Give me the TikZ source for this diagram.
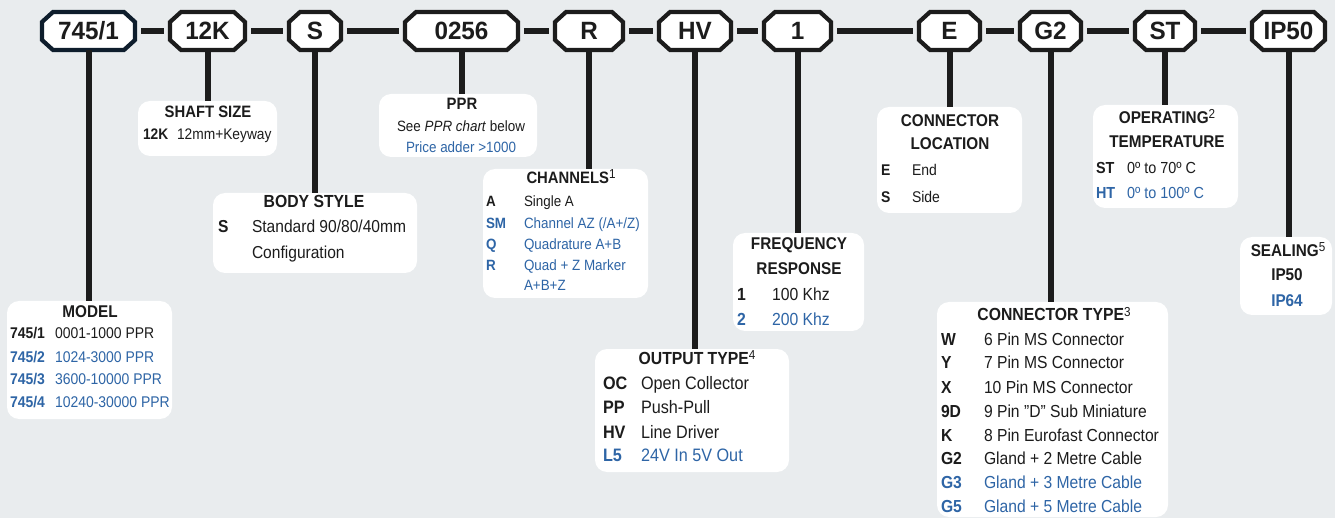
\documentclass[tikz,border=0pt]{standalone}
\usepackage{fontspec}
\setmainfont{Liberation Sans}[FakeStretch=0.9]
\newfontfamily\codefam{Liberation Sans}[FakeStretch=0.97]
\definecolor{bgc}{HTML}{E9ECEE}
\definecolor{ink}{HTML}{1C1C1C}
\definecolor{blu}{HTML}{2E65A6}
\definecolor{navy}{HTML}{0E1D2C}
\newcommand\sups[1]{\raisebox{5pt}{\mdseries\fontsize{13}{13}\selectfont #1}}
\newcommand\codebox[5]{%
  \draw[octo, draw=#5] ({#2-#3/2+11},12) -- ({#2+#3/2-11},12) -- ({#2+#3/2},22) -- ({#2+#3/2},40)
    -- ({#2+#3/2-11},50) -- ({#2-#3/2+11},50) -- ({#2-#3/2},40) -- ({#2-#3/2},22) -- cycle;
  \node[codet, minimum width=#3pt] (#1) at (#2,31) {#4};}
\newcommand\ttl[5]{\node[ttlt, font=\bfseries\fontsize{#5}{#5}\selectfont] (#1) at (#2,#3) {#4};}
\newcommand\row[8]{%
  \node[rowt, text=#6, font=\bfseries\fontsize{#5}{#5}\selectfont] (#1k) at (#2,#4) {#7};
  \node[rowt, text=#6, font=\fontsize{#5}{#5}\selectfont] (#1v) at (#3,#4) {#8};}
\begin{document}
\begin{tikzpicture}[x=1pt,y=-1pt,
  octo/.style={line width=4.2pt, fill=white, line join=miter},
  codet/.style={inner sep=0, outer sep=0, minimum height=38pt, text height=17.9pt, text depth=0pt,
    font=\codefam\bfseries\fontsize{25}{27}\selectfont, text=ink},
  descbox/.style={fill=white, rounded corners=12pt, inner sep=0, outer sep=0},
  link/.style={line width=5.5pt, draw=ink, shorten <=6pt, shorten >=6pt},
  stem/.style={line width=6pt, draw=ink},
  ttlt/.style={inner sep=0, outer sep=0, anchor=base, text=ink},
  rowt/.style={inner sep=0, outer sep=0, anchor=base west},
  plain/.style={inner sep=0, outer sep=0, anchor=base, text=ink}]
\useasboundingbox (0,0) rectangle (1335,518);
\fill[bgc] (0,0) rectangle (1335,518);

% description boxes
\node[descbox, minimum width=165pt, minimum height=118pt] (model) at (89.5,360) {};
\node[descbox, minimum width=139pt, minimum height=55pt] (shaft) at (207.5,128.5) {};
\node[descbox, minimum width=204pt, minimum height=80pt] (body) at (315,233) {};
\node[descbox, minimum width=158pt, minimum height=63pt] (ppr) at (458,125.5) {};
\node[descbox, minimum width=165pt, minimum height=129pt] (chan) at (565.5,233.5) {};
\node[descbox, minimum width=194pt, minimum height=123pt] (outp) at (692,410.5) {};
\node[descbox, minimum width=131pt, minimum height=98pt] (freq) at (798.5,282) {};
\node[descbox, minimum width=145pt, minimum height=106pt] (cloc) at (949.5,160) {};
\node[descbox, minimum width=231pt, minimum height=215pt] (ctype) at (1052.5,409.5) {};
\node[descbox, minimum width=145pt, minimum height=103pt] (temp) at (1165.5,156.5) {};
\node[descbox, minimum width=92pt, minimum height=78pt] (seal) at (1286,276) {};

% code boxes
\codebox{cA}{88.5}{93}{745/1}{navy}
\codebox{cB}{207.5}{75}{12K}{ink}
\codebox{cC}{315}{52}{S}{ink}
\codebox{cD}{461.5}{113}{0256}{ink}
\codebox{cE}{589}{68}{R}{ink}
\codebox{cF}{695}{72}{HV}{ink}
\codebox{cG}{797.5}{67}{1}{ink}
\codebox{cH}{949.5}{61}{E}{ink}
\codebox{cI}{1050.5}{61}{G2}{ink}
\codebox{cJ}{1165}{60}{ST}{ink}
\codebox{cK}{1288.5}{73}{IP50}{ink}

% links between codes
\draw[link] (cA) -- (cB);
\draw[link] (cB) -- (cC);
\draw[link] (cC) -- (cD);
\draw[link] (cD) -- (cE);
\draw[link] (cE) -- (cF);
\draw[link] (cF) -- (cG);
\draw[link] (cG) -- (cH);
\draw[link] (cH) -- (cI);
\draw[link] (cI) -- (cJ);
\draw[link] (cJ) -- (cK);

% stems
\draw[stem] (cA.south) -- (cA.south |- model.north);
\draw[stem] (cB.south) -- (cB.south |- shaft.north);
\draw[stem] (cC.south) -- (cC.south |- body.north);
\draw[stem] (cD.south) -- (cD.south |- ppr.north);
\draw[stem] (cE.south) -- (cE.south |- chan.north);
\draw[stem] (cF.south) -- (cF.south |- outp.north);
\draw[stem] (cG.south) -- (cG.south |- freq.north);
\draw[stem] (cH.south) -- (cH.south |- cloc.north);
\draw[stem] (cI.south) -- (cI.south |- ctype.north);
\draw[stem] (cJ.south) -- (cJ.south |- temp.north);
\draw[stem] (cK.south) -- (cK.south |- seal.north);

% MODEL
\ttl{tmodel}{90}{318}{MODEL}{17}
\row{m1}{10}{55}{338.5}{15.5}{ink}{745/1}{0001-1000 PPR}
\row{m2}{10}{55}{362.5}{15.5}{blu}{745/2}{1024-3000 PPR}
\row{m3}{10}{55}{384.5}{15.5}{blu}{745/3}{3600-10000 PPR}
\row{m4}{10}{55}{407.5}{15.5}{blu}{745/4}{10240-30000 PPR}

% SHAFT SIZE
\ttl{tshaft}{208}{118}{SHAFT SIZE}{16.5}
\row{s1}{143}{177}{139.5}{15.3}{ink}{12K}{12mm+Keyway}

% BODY STYLE
\ttl{tbody}{314}{208}{BODY STYLE}{17.5}
\row{b1}{218}{252}{233}{17.3}{ink}{S}{Standard 90/80/40mm}
\node[rowt, text=ink, font=\fontsize{17.3}{17.3}\selectfont] (b2v) at (252,259) {Configuration};

% PPR
\ttl{tppr}{462}{110}{PPR}{16.5}
\node[plain, font=\fontsize{14.9}{14.9}\selectfont] (p1) at (461,131.2) {See \textit{PPR chart} below};
\node[plain, text=blu, font=\fontsize{14.9}{14.9}\selectfont] (p2) at (461,152.2) {Price adder >1000};

% CHANNELS
\ttl{tchan}{571}{184}{CHANNELS\sups{1}}{16.5}
\row{h1}{486}{524}{206.2}{14.9}{ink}{A}{Single A}
\row{h2}{486}{524}{228.2}{14.9}{blu}{SM}{Channel AZ (/A+/Z)}
\row{h3}{486}{524}{249.2}{14.9}{blu}{Q}{Quadrature A+B}
\row{h4}{486}{524}{270.2}{14.9}{blu}{R}{Quad + Z Marker}
\node[rowt, text=blu, font=\fontsize{14.9}{14.9}\selectfont] (h5v) at (524,290.2) {A+B+Z};

% OUTPUT TYPE
\ttl{tout}{697}{364}{OUTPUT TYPE\sups{4}}{17.5}
\row{o1}{603}{641}{389.4}{18}{ink}{OC}{Open Collector}
\row{o2}{603}{641}{413.4}{18}{ink}{PP}{Push-Pull}
\row{o3}{603}{641}{438.4}{18}{ink}{HV}{Line Driver}
\row{o4}{603}{641}{461.4}{18}{blu}{L5}{24V In 5V Out}

% FREQUENCY RESPONSE
\ttl{tfreq1}{799}{250}{FREQUENCY}{17}
\ttl{tfreq2}{799}{275}{RESPONSE}{17}
\row{f1}{737}{772}{300.3}{17.5}{ink}{1}{100 Khz}
\row{f2}{737}{772}{325.3}{17.5}{blu}{2}{200 Khz}

% CONNECTOR LOCATION
\ttl{tloc1}{950}{127}{CONNECTOR}{17}
\ttl{tloc2}{950}{150}{LOCATION}{17}
\row{l1}{881}{912}{175.5}{15.5}{ink}{E}{End}
\row{l2}{881}{912}{202.5}{15.5}{ink}{S}{Side}

% OPERATING TEMPERATURE
\ttl{ttemp1}{1167}{124}{OPERATING\sups{2}}{17}
\ttl{ttemp2}{1167}{148}{TEMPERATURE}{17}
\row{t1}{1096}{1127}{173.7}{16}{ink}{ST}{0º to 70º C}
\row{t2}{1096}{1127}{198.7}{16}{blu}{HT}{0º to 100º C}

% SEALING
\ttl{tseal}{1288}{257}{SEALING\sups{5}}{17}
\ttl{seal1}{1287}{281}{IP50}{17}
\node[ttlt, text=blu, font=\bfseries\fontsize{17}{17}\selectfont] (seal2) at (1287,307) {IP64};

% CONNECTOR TYPE
\ttl{tctype}{1054}{321}{CONNECTOR TYPE\sups{3}}{17.5}
\row{k1}{941}{984}{345.9}{17.4}{ink}{W}{6 Pin MS Connector}
\row{k2}{941}{984}{368.9}{17.4}{ink}{Y}{7 Pin MS Connector}
\row{k3}{941}{984}{393.9}{17.4}{ink}{X}{10 Pin MS Connector}
\row{k4}{941}{984}{417.9}{17.4}{ink}{9D}{9 Pin "D" Sub Miniature}
\row{k5}{941}{984}{441.9}{17.4}{ink}{K}{8 Pin Eurofast Connector}
\row{k6}{941}{984}{464.9}{17.4}{ink}{G2}{Gland + 2 Metre Cable}
\row{k7}{941}{984}{488.9}{17.4}{blu}{G3}{Gland + 3 Metre Cable}
\row{k8}{941}{984}{512.9}{17.4}{blu}{G5}{Gland + 5 Metre Cable}
\end{tikzpicture}
\end{document}
